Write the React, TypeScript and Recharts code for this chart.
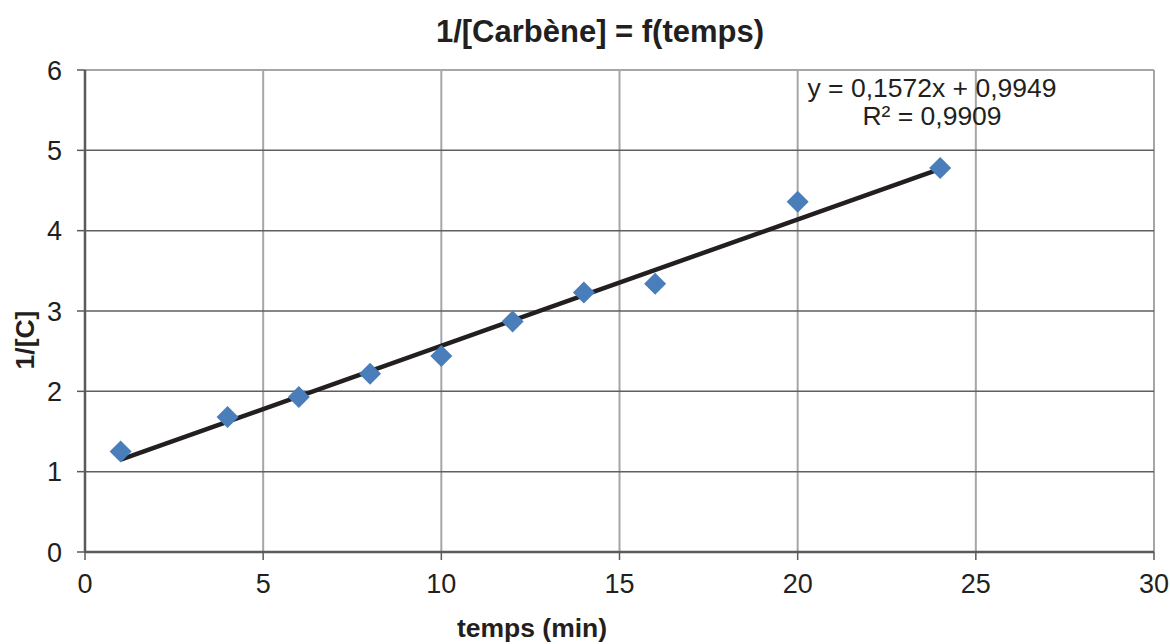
import {
  CartesianGrid,
  ReferenceLine,
  Scatter,
  ScatterChart,
  XAxis,
  YAxis,
} from 'recharts';

// measured values: time (min) and 1/[C]
const temps = [1, 4, 6, 8, 10, 12, 14, 16, 20, 24];
const inverseC = [1.25, 1.68, 1.93, 2.22, 2.44, 2.87, 3.23, 3.34, 4.36, 4.78];

// trendline end points (y = 0,1572x + 0,9949)
const trendX = [1, 24];
const trendY = [1.15, 4.77];

const xTicks = [0, 5, 10, 15, 20, 25, 30];
const yTicks = [0, 1, 2, 3, 4, 5, 6];

const points = temps.map((t, i) => ({ x: t, y: inverseC[i] }));
const trend = trendX.map((t, i) => ({ x: t, y: trendY[i] }));

const FONT = '"Liberation Sans", Arial, sans-serif';
const TEXT = '#231f20';

const Diamond = (props: any) => {
  const { cx, cy } = props;
  if (cx == null || cy == null) return null;
  const r = 11;
  return (
    <polygon
      points={`${cx},${cy - r} ${cx + r},${cy} ${cx},${cy + r} ${cx - r},${cy}`}
      fill="#4a7ebb"
    />
  );
};

export default function App() {
  return (
    <div
      style={{
        position: 'absolute',
        left: 0,
        top: 0,
        width: 1170,
        height: 644,
        background: '#fff',
        fontFamily: FONT,
        color: TEXT,
      }}
    >
      <ScatterChart
        width={1170}
        height={644}
        margin={{ top: 70, right: 16, left: 0, bottom: 0 }}
      >
        <CartesianGrid horizontal={false} stroke="#a6a6a6" strokeWidth={2} />
        <CartesianGrid vertical={false} stroke="#5f5f5f" strokeWidth={1.5} />
        <ReferenceLine y={6} stroke="#a6a6a6" strokeWidth={2} />
        <XAxis
          type="number"
          dataKey="x"
          domain={[0, 30]}
          ticks={xTicks}
          height={92}
          tickSize={8}
          tickMargin={14}
          axisLine={{ stroke: '#5a5a5a', strokeWidth: 2.5 }}
          tickLine={{ stroke: '#5a5a5a', strokeWidth: 1.5 }}
          tick={{ fill: TEXT, fontSize: 27, fontFamily: FONT }}
        />
        <YAxis
          type="number"
          dataKey="y"
          domain={[0, 6]}
          ticks={yTicks}
          width={85}
          tickSize={8}
          tickMargin={15}
          axisLine={{ stroke: '#5a5a5a', strokeWidth: 2.5 }}
          tickLine={{ stroke: '#5a5a5a', strokeWidth: 1.5 }}
          tick={{ fill: TEXT, fontSize: 27, fontFamily: FONT }}
        />
        <Scatter
          data={trend}
          line={{ stroke: '#231f20', strokeWidth: 4.5 }}
          shape={() => null}
          isAnimationActive={false}
        />
        <Scatter data={points} shape={<Diamond />} isAnimationActive={false} />
      </ScatterChart>

      {/* title */}
      <div
        style={{
          position: 'absolute',
          left: 0,
          width: 1200,
          top: 16,
          textAlign: 'center',
          fontSize: 31,
          lineHeight: 1,
          fontWeight: 'bold',
          whiteSpace: 'nowrap',
        }}
      >
        1/[Carbène] = f(temps)
      </div>

      {/* axis titles */}
      <div
        style={{
          position: 'absolute',
          left: 532,
          top: 615,
          transform: 'translateX(-50%)',
          fontSize: 26.5,
          lineHeight: 1,
          fontWeight: 'bold',
          whiteSpace: 'nowrap',
        }}
      >
        temps (min)
      </div>
      <div
        style={{
          position: 'absolute',
          left: 25,
          top: 340,
          transform: 'translate(-50%, -50%) rotate(-90deg)',
          fontSize: 26.5,
          lineHeight: 1,
          fontWeight: 'bold',
          whiteSpace: 'nowrap',
        }}
      >
        1/[C]
      </div>

      {/* trendline equation */}
      <div
        style={{
          position: 'absolute',
          left: 932,
          top: 74,
          transform: 'translateX(-50%)',
          fontSize: 26.5,
          lineHeight: '28px',
          textAlign: 'center',
          whiteSpace: 'nowrap',
        }}
      >
        y = 0,1572x + 0,9949
        <br />
        R² = 0,9909
      </div>
    </div>
  );
}
